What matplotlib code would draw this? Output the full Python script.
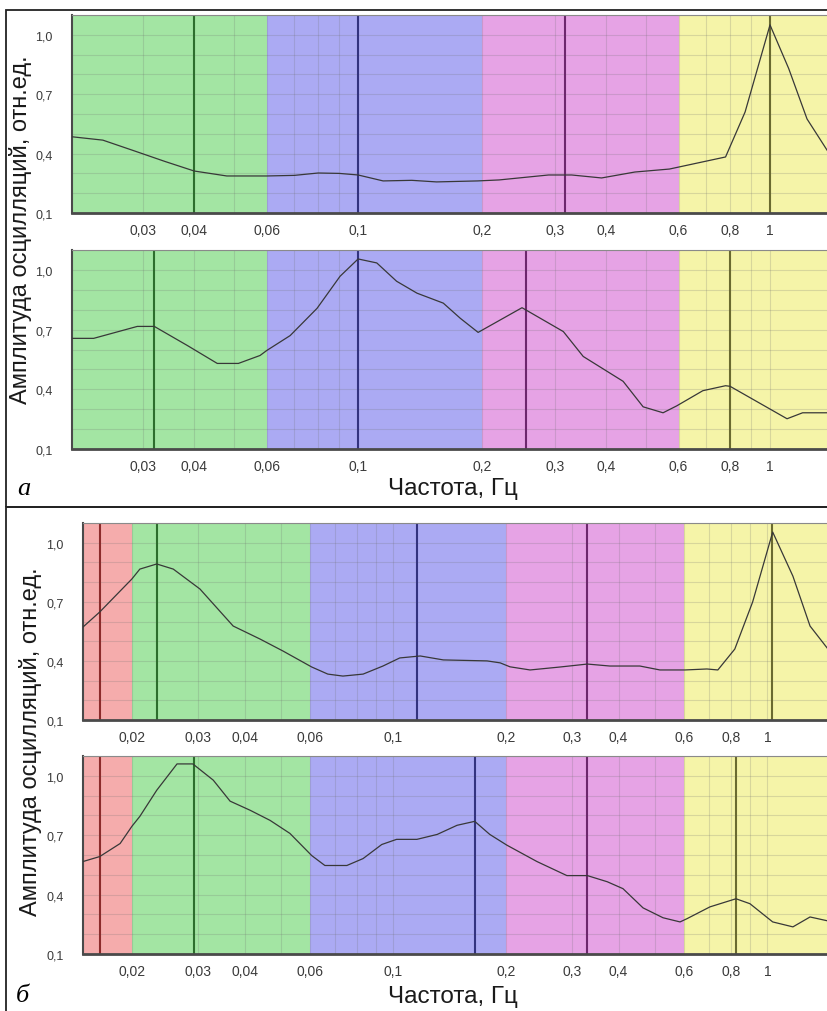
import matplotlib.pyplot as plt
from matplotlib.patches import Rectangle
from matplotlib.ticker import LogLocator, MultipleLocator, NullFormatter

plt.rcParams['font.family'] = ['Liberation Sans', 'DejaVu Sans']

# band edges (Hz), first and last = visible x-range
bands_a = [0.0202, 0.06, 0.2, 0.6, 1.383]
bands_b = [0.0148, 0.02, 0.06, 0.2, 0.6, 1.452]
band_colors_a = ['#a3e5a3', '#abaaf3', '#e6a3e5', '#f5f4a8']
band_colors_b = ['#f5acac'] + band_colors_a
peak_colors_a = ['#2d6e2d', '#33337f', '#6d276d', '#6a6a30']
peak_colors_b = ['#8c2b2b'] + peak_colors_a

ticks_a = [0.03, 0.04, 0.06, 0.1, 0.2, 0.3, 0.4, 0.6, 0.8, 1]
tick_labels_a = ['0,03', '0,04', '0,06', '0,1', '0,2', '0,3', '0,4', '0,6', '0,8', '1']
ticks_b = [0.02] + ticks_a
tick_labels_b = ['0,02'] + tick_labels_a
yticks = [0.1, 0.4, 0.7, 1.0]
ytick_labels = ['0,1', '0,4', '0,7', '1,0']

# panel a, upper record
a1_freq = [0.0202, 0.024, 0.0285, 0.034, 0.040, 0.048, 0.060, 0.070, 0.080, 0.090,
           0.10, 0.115, 0.135, 0.155, 0.195, 0.22, 0.29, 0.33, 0.39, 0.47, 0.57,
           0.78, 0.87, 1.0, 1.11, 1.23, 1.383]
a1_amp = [0.485, 0.468, 0.415, 0.36, 0.312, 0.287, 0.287, 0.29, 0.302, 0.30,
          0.292, 0.262, 0.265, 0.257, 0.262, 0.267, 0.292, 0.292, 0.277, 0.307, 0.322,
          0.383, 0.61, 1.05, 0.83, 0.575, 0.41]
a1_peaks = [0.04, 0.1, 0.318, 1.0]

# panel a, lower record
a2_freq = [0.0202, 0.0228, 0.0291, 0.032, 0.0385, 0.0455, 0.0512, 0.0578, 0.060, 0.0684,
           0.0795, 0.0904, 0.10, 0.111, 0.124, 0.139, 0.161, 0.177, 0.1956, 0.250,
           0.315, 0.352, 0.44, 0.492, 0.55, 0.594, 0.687, 0.78, 0.80, 1.10, 1.20, 1.383]
a2_amp = [0.656, 0.656, 0.716, 0.716, 0.62, 0.53, 0.53, 0.57, 0.595, 0.67,
          0.807, 0.968, 1.055, 1.035, 0.943, 0.883, 0.833, 0.757, 0.686, 0.81,
          0.69, 0.565, 0.44, 0.312, 0.282, 0.317, 0.393, 0.418, 0.415, 0.252, 0.282, 0.282]
a2_peaks = [0.032, 0.1, 0.255, 0.8]

# panel b, upper record
b1_freq = [0.0148, 0.0164, 0.020, 0.021, 0.0233, 0.0258, 0.0304, 0.0373, 0.044, 0.0507,
           0.0605, 0.0668, 0.0733, 0.083, 0.0938, 0.104, 0.118, 0.136, 0.178, 0.193,
           0.205, 0.232, 0.279, 0.330, 0.379, 0.456, 0.516, 0.602, 0.689, 0.737,
           0.818, 0.913, 1.033, 1.17, 1.30, 1.452]
b1_amp = [0.572, 0.648, 0.816, 0.866, 0.892, 0.866, 0.765, 0.577, 0.511, 0.45,
          0.369, 0.333, 0.323, 0.333, 0.374, 0.415, 0.425, 0.405, 0.40, 0.39,
          0.37, 0.354, 0.369, 0.384, 0.374, 0.374, 0.354, 0.354, 0.359, 0.354,
          0.46, 0.699, 1.054, 0.83, 0.577, 0.46]
b1_peaks = [0.0164, 0.0233, 0.116, 0.33, 1.03]

# panel b, lower record
b2_freq = [0.0148, 0.0164, 0.0186, 0.020, 0.021, 0.0233, 0.0264, 0.0291, 0.033, 0.0366,
           0.0414, 0.0468, 0.0529, 0.0605, 0.0656, 0.0751, 0.083, 0.0931, 0.102, 0.1156,
           0.131, 0.148, 0.165, 0.181, 0.201, 0.242, 0.291, 0.330, 0.373, 0.411,
           0.465, 0.526, 0.584, 0.609, 0.702, 0.824, 0.898, 1.033, 1.17, 1.30, 1.452]
b2_amp = [0.567, 0.592, 0.658, 0.745, 0.795, 0.927, 1.06, 1.06, 0.978, 0.872,
          0.826, 0.775, 0.709, 0.597, 0.547, 0.547, 0.582, 0.653, 0.679, 0.679,
          0.704, 0.75, 0.77, 0.704, 0.65, 0.567, 0.496, 0.496, 0.465, 0.43,
          0.333, 0.283, 0.262, 0.278, 0.338, 0.379, 0.354, 0.262, 0.237, 0.287, 0.267]
b2_peaks = [0.0164, 0.0293, 0.165, 0.33, 0.824]

W, H = 828, 1012
fig = plt.figure(figsize=(W / 100, H / 100), dpi=100)


def axes_px(left, top, bottom):
    return fig.add_axes([left / W, 1 - bottom / H, (W - left) / W, (bottom - top) / H])


def draw(ax, freq, amp, bands, colors, peaks, peak_colors, ticks, labels):
    for i in range(len(colors)):
        ax.axvspan(bands[i], bands[i + 1], color=colors[i], lw=0, zorder=0)
    ax.set_xscale('log')
    ax.set_xlim(bands[0], bands[-1])
    ax.set_ylim(0.1, 1.1)
    ax.set_xticks(ticks)
    ax.set_xticklabels(labels)
    ax.xaxis.set_minor_locator(LogLocator(base=10, subs=range(1, 10)))
    ax.xaxis.set_minor_formatter(NullFormatter())
    ax.set_yticks(yticks)
    ax.set_yticklabels(ytick_labels)
    ax.yaxis.set_minor_locator(MultipleLocator(0.1))
    ax.grid(True, which='both', color='#6f6f6f', alpha=0.22, lw=0.8)
    ax.tick_params(which='both', length=0)
    ax.tick_params(axis='x', labelsize=10, pad=7, labelcolor='#3a3a3a')
    ax.tick_params(axis='y', labelsize=9, pad=14, labelcolor='#3a3a3a')
    for p, c in zip(peaks, peak_colors):
        ax.axvline(p, color=c, lw=1.5, zorder=2)
    ax.plot(freq, amp, color='#383838', lw=0.9, zorder=3)
    ax.spines['right'].set_visible(False)
    ax.spines['top'].set_color('#8a8a8a')
    ax.spines['top'].set_linewidth(0.8)
    ax.spines['bottom'].set_color('#4a4a4a')
    ax.spines['bottom'].set_linewidth(2)
    ax.spines['left'].set_color('#4a4a4a')
    ax.spines['left'].set_linewidth(1.5)


ax = axes_px(72, 16, 214)
draw(ax, a1_freq, a1_amp, bands_a, band_colors_a, a1_peaks, peak_colors_a, ticks_a, tick_labels_a)
ax = axes_px(72, 251, 450)
draw(ax, a2_freq, a2_amp, bands_a, band_colors_a, a2_peaks, peak_colors_a, ticks_a, tick_labels_a)
ax = axes_px(83, 524, 721)
draw(ax, b1_freq, b1_amp, bands_b, band_colors_b, b1_peaks, peak_colors_b, ticks_b, tick_labels_b)
ax = axes_px(83, 757, 955)
draw(ax, b2_freq, b2_amp, bands_b, band_colors_b, b2_peaks, peak_colors_b, ticks_b, tick_labels_b)

# frames around the two panels
fig.add_artist(Rectangle((6 / W, 1 - 508 / H), 1, (508 - 11) / H, transform=fig.transFigure,
                         fill=False, lw=1.3, ec='#222222'))
fig.add_artist(Rectangle((6 / W, -0.1), 1, 0.1 + 1 - 508 / H, transform=fig.transFigure,
                         fill=False, lw=1.3, ec='#222222'))

ylab = 'Амплитуда осцилляций, отн.ед.'
fig.text(21 / W, 1 - 230 / H, ylab, rotation=90, ha='center', va='center', fontsize=17, color='#1a1a1a')
fig.text(31 / W, 1 - 742 / H, ylab, rotation=90, ha='center', va='center', fontsize=17, color='#1a1a1a')
fig.text(453 / W, 1 - 489 / H, 'Частота, Гц', ha='center', va='center', fontsize=17.5, color='#1a1a1a')
fig.text(453 / W, 1 - 997 / H, 'Частота, Гц', ha='center', va='center', fontsize=17.5, color='#1a1a1a')
fig.text(24 / W, 1 - 489 / H, 'a', ha='center', va='center', fontsize=19,
         family='Liberation Serif', style='italic')
fig.text(22 / W, 1 - 996 / H, 'б', ha='center', va='center', fontsize=19,
         family='Liberation Serif', style='italic')

fig.savefig('out.png', dpi=100)
